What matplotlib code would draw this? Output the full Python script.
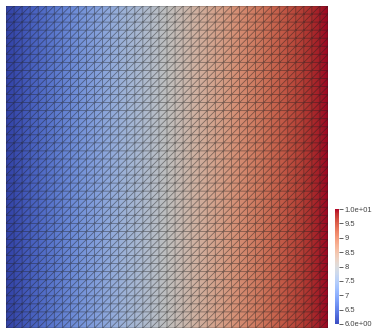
import numpy as np
import matplotlib.pyplot as plt
import matplotlib.tri as mtri
from matplotlib.colors import ListedColormap, Normalize
from matplotlib.cm import ScalarMappable

# node values along x (field is constant in y)
column_values = [6.0, 6.1, 6.2, 6.3, 6.4, 6.5, 6.6, 6.7, 6.8, 6.9,
                 7.0, 7.1, 7.2, 7.3, 7.4, 7.5, 7.6, 7.7, 7.8, 7.9,
                 8.0, 8.1, 8.2, 8.3, 8.4, 8.5, 8.6, 8.7, 8.8, 8.9,
                 9.0, 9.1, 9.2, 9.3, 9.4, 9.5, 9.6, 9.7, 9.8, 9.9, 10.0]
tick_values = [6.0, 6.5, 7.0, 7.5, 8.0, 8.5, 9.0, 9.5, 10.0]
tick_labels = ['6.0e+00', '6.5', '7', '7.5', '8', '8.5', '9', '9.5', '1.0e+01']

n = len(column_values)
xs = np.linspace(0, 1, n)
X, Y = np.meshgrid(xs, xs)
Z = np.tile(column_values, (n, 1))

# two triangles per cell, diagonal bottom-left -> top-right
tris = []
for j in range(n - 1):
    for i in range(n - 1):
        a = j * n + i
        b = a + 1
        c = a + n
        d = c + 1
        tris.append([a, b, d])
        tris.append([a, d, c])
tri = mtri.Triangulation(X.ravel(), Y.ravel(), tris)

# surface looks shaded (darker) than the legend colours
base = plt.get_cmap('coolwarm')(np.linspace(0, 1, 256))
base[:, :3] *= 0.86
shaded = ListedColormap(base)
norm = Normalize(6, 10)

fig = plt.figure(figsize=(3.77, 3.33), dpi=100)
ax = fig.add_axes([6 / 377, 5 / 333, 322 / 377, 322 / 333])
ax.tripcolor(tri, Z.ravel(), shading='gouraud', cmap=shaded, norm=norm)
ax.triplot(tri, color='#202020', lw=0.55, alpha=0.5)
ax.set_xlim(0, 1)
ax.set_ylim(0, 1)
ax.axis('off')

cax = fig.add_axes([335 / 377, 9 / 333, 4 / 377, 115 / 333])
cb = fig.colorbar(ScalarMappable(norm=norm, cmap='coolwarm'), cax=cax)
cb.outline.set_visible(False)
cb.set_ticks(tick_values)
cb.set_ticklabels(tick_labels)
cax.tick_params(axis='y', length=3, width=0.6, color='#444444', labelsize=5.5,
                labelcolor='#444444', pad=1)
for t in cax.get_yticklabels():
    t.set_family('Liberation Sans')

fig.savefig('out.png', dpi=100)
